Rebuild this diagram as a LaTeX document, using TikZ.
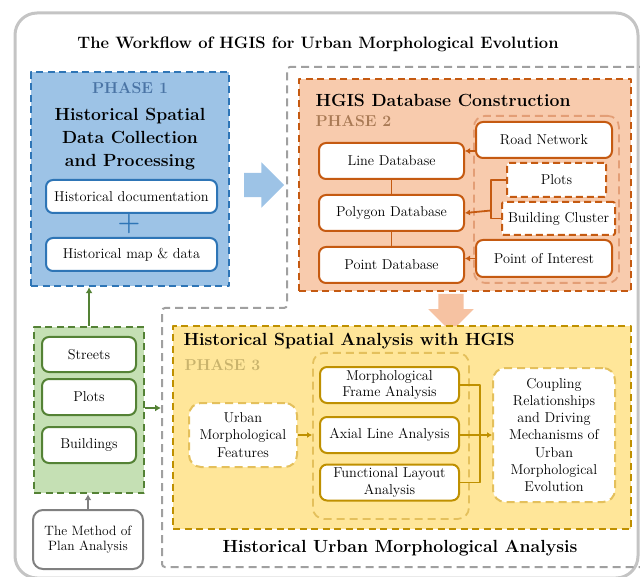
\documentclass[tikz,border=0pt]{standalone}
\usetikzlibrary{arrows.meta,shapes.arrows,positioning}
\definecolor{bluefill}{HTML}{9DC3E6}
\definecolor{blueline}{HTML}{2E75B6}
\definecolor{bluetxt}{HTML}{4A74A5}
\definecolor{orangefill}{HTML}{F8CBAD}
\definecolor{orangeline}{HTML}{C55A11}
\definecolor{orangesoft}{HTML}{E39E76}
\definecolor{orangetxt}{HTML}{A97A55}
\definecolor{orangearrow}{HTML}{F6C2A2}
\definecolor{yellowfill}{HTML}{FFE699}
\definecolor{yellowline}{HTML}{BF9000}
\definecolor{yellowsoft}{HTML}{E4C05C}
\definecolor{yellowtxt}{HTML}{C9B36C}
\definecolor{greenfill}{HTML}{C5E0B4}
\definecolor{greenline}{HTML}{548235}
\definecolor{graydash}{HTML}{A0A0A0}
\definecolor{grayouter}{HTML}{C4C4C4}
\definecolor{graybox}{HTML}{808080}
\begin{document}
\begin{tikzpicture}[x=1pt, y=-1pt, line join=round,
    body/.style={font=\fontsize{14.3}{16.5}\selectfont},
    head/.style={font=\bfseries\fontsize{17.6}{23}\selectfont, align=center},
    tag/.style={font=\bfseries\fontsize{15.8}{18}\selectfont},
    zone/.style={rectangle, anchor=north west, line width=2.2pt, dash pattern=on 7pt off 4.5pt},
    softzone/.style={rectangle, anchor=north west, line width=1.8pt, rounded corners=11pt, dash pattern=on 8pt off 5pt},
    box/.style={rectangle, draw, fill=white, rounded corners=7pt, line width=2pt, align=center, inner sep=1pt, body},
    dbox/.style={box, rounded corners=2pt, dash pattern=on 7pt off 4pt},
    sbox/.style={box, rounded corners=12pt, dash pattern=on 8pt off 5pt, font=\fontsize{14.3}{17.2}\selectfont},
    bigarrow/.style={single arrow, draw=none, minimum height=40pt, single arrow head extend=10.5pt, inner sep=12pt},
    ln2/.style={draw=orangeline, line width=1.8pt},
    arr2/.style={ln2, -{Latex[length=5pt,width=6pt]}},
    ln3/.style={draw=yellowline, line width=1.8pt},
    arr3/.style={ln3, -{Latex[length=5pt,width=6pt]}},
    arrg/.style={draw=greenline, line width=2.2pt, -{Latex[length=6pt,width=7pt]}}]
    \useasboundingbox (0,0) rectangle (640,577);
    \clip (0,0) rectangle (640,577);
    \draw[grayouter, line width=3pt, rounded corners=22pt] (15,13) rectangle (638,578);
    \draw[graydash, line width=2pt, dash pattern=on 8pt off 5pt, rounded corners=3pt]
        (660,67) -- (287,67) -- (287,308) -- (162,308) -- (162,567) -- (660,567);
    \node[head, font=\bfseries\fontsize{16.5}{19}\selectfont] (title) at (318,44) {The Workflow of HGIS for Urban Morphological Evolution};

    \node[zone, draw=blueline, fill=bluefill, minimum width=198pt, minimum height=214pt] (phase1) at (30,71) {};
    \node[tag, text=bluetxt] (tag1) at (130,88) {PHASE 1};
    \node[head] (head1) at (130,139) {Historical Spatial\\Data Collection\\and Processing};
    \node[box, draw=blueline, minimum width=171pt, minimum height=33pt] (hdoc) at (131.5,196.5) {Historical documentation};
    \node[text=blueline, font=\bfseries\fontsize{26}{26}\selectfont] (plus) at (129,224) {+};
    \node[box, draw=blueline, minimum width=171pt, minimum height=33pt, below=23pt of hdoc] (hmap) {Historical map \& data};
    \node[bigarrow, fill=bluefill] (toDB) at (258,185) {};

    \node[zone, draw=orangeline, fill=orangefill, minimum width=332pt, minimum height=212pt] (phase2) at (298,78) {};
    \node[head, anchor=west] (head2) at (312,100) {HGIS Database Construction};
    \node[tag, text=orangetxt, anchor=west] (tag2) at (312,121) {PHASE 2};
    \node[softzone, draw=orangesoft, minimum width=145pt, minimum height=167pt] (layers) at (473,115) {};
    \node[box, draw=orangeline, minimum width=145pt, minimum height=36pt] (linedb) at (391.5,161) {Line Database};
    \node[box, draw=orangeline, minimum width=145pt, minimum height=36pt, below=14pt of linedb] (polydb) {Polygon Database};
    \node[box, draw=orangeline, minimum width=145pt, minimum height=36pt, below=14pt of polydb] (pointdb) {Point Database};
    \node[box, draw=orangeline, minimum width=136pt, minimum height=36pt] (road) at (544,140) {Road Network};
    \node[dbox, draw=orangeline, minimum width=99pt, minimum height=34pt] (plots) at (556.5,180) {Plots};
    \node[dbox, draw=orangeline, minimum width=113pt, minimum height=33pt] (cluster) at (558.5,218.5) {Building Cluster};
    \node[box, draw=orangeline, minimum width=136pt, minimum height=37pt] (poi) at (544,258.5) {Point of Interest};
    \coordinate (brk) at (491,210.5);
    \draw[ln2] (linedb) -- (polydb) -- (pointdb);
    \draw[arr2] (road.west |- 0,151) -- (linedb.east |- 0,151);
    \draw[ln2] (plots.west) -- (plots.west -| brk) -- (cluster.west -| brk) -- (cluster.west);
    \draw[arr2] (brk) -- (polydb.east);
    \draw[arr2] (poi.west) -- (poi.west -| pointdb.east);
    \node[bigarrow, fill=orangearrow, shape border rotate=270, minimum height=33pt, inner sep=12.5pt, single arrow head extend=10pt] (toAnalysis) at (451,306.5) {};

    \node[zone, draw=yellowline, fill=yellowfill, minimum width=458pt, minimum height=203pt] (phase3) at (172,325) {};
    \node[head, anchor=west] (head3) at (180,341) {Historical Spatial Analysis with HGIS};
    \node[tag, text=yellowtxt, anchor=west] (tag3) at (181,365) {PHASE 3};
    \node[softzone, draw=yellowsoft, minimum width=156pt, minimum height=166pt] (methods) at (312,352) {};
    \node[sbox, draw=yellowsoft, minimum width=108pt, minimum height=64pt] (urban) at (243,435) {Urban\\Morphological\\Features};
    \node[box, draw=yellowline, minimum width=139pt, minimum height=36pt] (frame) at (389.5,385) {Morphological\\Frame Analysis};
    \node[box, draw=yellowline, minimum width=139pt, minimum height=36pt] (axial) at (389.5,435) {Axial Line Analysis};
    \node[box, draw=yellowline, minimum width=139pt, minimum height=36pt] (layout) at (389.5,482.5) {Functional Layout\\Analysis};
    \node[sbox, draw=yellowsoft, minimum width=122pt, minimum height=134pt] (coupling) at (554,435) {Coupling\\Relationships\\and Driving\\Mechanisms of\\Urban\\Morphological\\Evolution};
    \coordinate (merge) at (480,435);
    \draw[arr3] (urban.east) -- (urban.east -| methods.west);
    \draw[ln3] (frame.east) -| (merge);
    \draw[ln3] (layout.east) -| (merge);
    \draw[arr3] (axial.east) -- (coupling.west);
    \node[head] (head4) at (400,548) {Historical Urban Morphological Analysis};

    \node[zone, draw=greenline, fill=greenfill, minimum width=110pt, minimum height=166pt] (plan) at (33,326) {};
    \node[box, draw=greenline, minimum width=94pt, minimum height=35pt] (streets) at (89,354.5) {Streets};
    \node[box, draw=greenline, minimum width=94pt, minimum height=36pt] (lots) at (89,397) {Plots};
    \node[box, draw=greenline, minimum width=94pt, minimum height=36pt] (buildings) at (89,445) {Buildings};
    \node[box, draw=graybox, rounded corners=10pt, minimum width=110pt, minimum height=59pt, font=\fontsize{13.5}{15.5}\selectfont] (method) at (88,539.5) {The Method of\\Plan Analysis};
    \coordinate (graywall) at (161,408);
    \draw[arrg] (plan.north) -- (plan.north |- phase1.south);
    \draw[arrg] (plan.east |- graywall) -- (graywall);
    \draw[draw=graybox, line width=2.2pt, -{Latex[length=6pt,width=7pt]}] (method.north) -- (method.north |- plan.south);
\end{tikzpicture}
\end{document}
